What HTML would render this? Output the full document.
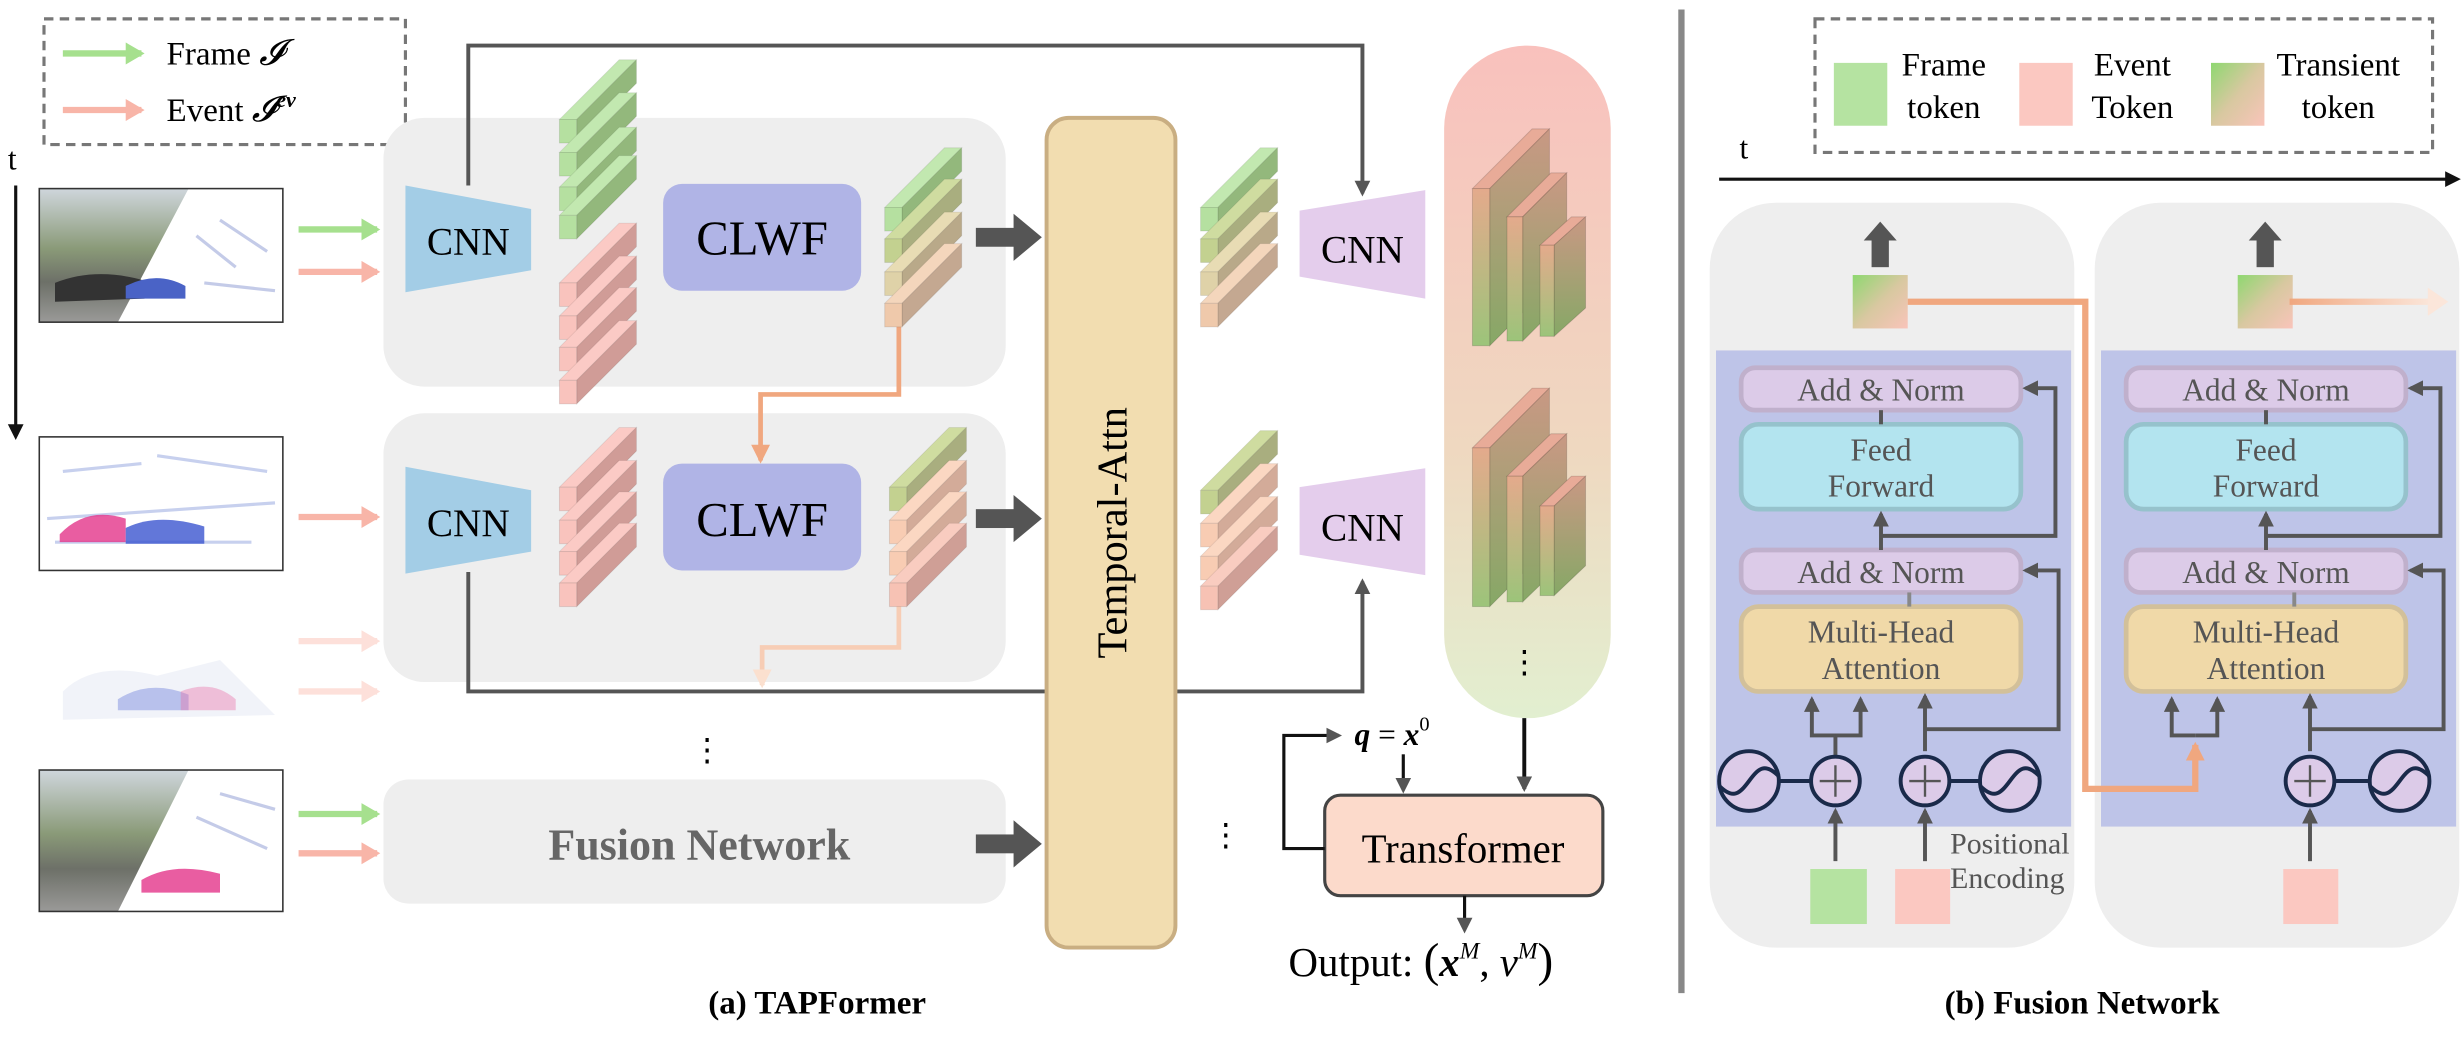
<!DOCTYPE html>
<html><head><meta charset="utf-8"><style>
html,body{margin:0;padding:0;background:#fff;}
svg{display:block;font-family:"Liberation Serif",serif;}
svg text{font-family:"Liberation Serif",serif;}
</style></head><body>
<svg id="s" width="2464" height="1043" viewBox="0 0 1568 663.7" xmlns="http://www.w3.org/2000/svg" font-family="Liberation Serif, serif">
<defs>
<marker id="ah" markerWidth="10" markerHeight="10" refX="8" refY="5" orient="auto" markerUnits="userSpaceOnUse"><path d="M0,0 L10,5 L0,10 Z" fill="#555"/></marker>
<marker id="aho" markerWidth="12" markerHeight="12" refX="10" refY="6" orient="auto" markerUnits="userSpaceOnUse"><path d="M0,0 L12,6 L0,12 Z" fill="#f0a77f"/></marker>
<marker id="ahof" markerWidth="12" markerHeight="12" refX="10" refY="6" orient="auto" markerUnits="userSpaceOnUse"><path d="M0,0 L12,6 L0,12 Z" fill="#fbe0cf"/></marker>
<marker id="ahg" markerWidth="12" markerHeight="14" refX="10" refY="7" orient="auto" markerUnits="userSpaceOnUse"><path d="M0,0 L12,7 L0,14 Z" fill="#a6e08e"/></marker>
<marker id="ahp" markerWidth="12" markerHeight="14" refX="10" refY="7" orient="auto" markerUnits="userSpaceOnUse"><path d="M0,0 L12,7 L0,14 Z" fill="#f8b5a8"/></marker>
<marker id="ahpf" markerWidth="12" markerHeight="14" refX="10" refY="7" orient="auto" markerUnits="userSpaceOnUse"><path d="M0,0 L12,7 L0,14 Z" fill="#fde0da"/></marker>
<linearGradient id="pill" x1="0" y1="0" x2="0" y2="1"><stop offset="0" stop-color="#f9c1bd"/><stop offset="0.6" stop-color="#efd8c0"/><stop offset="1" stop-color="#e2efd0"/></linearGradient>
<linearGradient id="tok" x1="0" y1="0" x2="1" y2="1"><stop offset="0" stop-color="#8ed870"/><stop offset="0.5" stop-color="#d8c8a0"/><stop offset="1" stop-color="#f9c4ba"/></linearGradient>
<linearGradient id="fmf" x1="0" y1="0" x2="0" y2="1"><stop offset="0" stop-color="#e4aa8c"/><stop offset="1" stop-color="#9cc47a"/></linearGradient>
<linearGradient id="fms" x1="0" y1="0" x2="0" y2="1"><stop offset="0" stop-color="#c99884"/><stop offset="1" stop-color="#86a866"/></linearGradient>
<linearGradient id="fadeo" x1="0" y1="0" x2="1" y2="0"><stop offset="0" stop-color="#f0a77f"/><stop offset="1" stop-color="#fbe6da"/></linearGradient>
<linearGradient id="img1" x1="0" y1="0" x2="0" y2="1"><stop offset="0" stop-color="#cfd6dc"/><stop offset="0.45" stop-color="#8a9a78"/><stop offset="0.7" stop-color="#6d7068"/><stop offset="1" stop-color="#9a9a98"/></linearGradient>
</defs>

<rect x="28" y="12" width="230" height="80" fill="none" stroke="#777" stroke-width="2" stroke-dasharray="6,4"/>
<line x1="40" y1="34" x2="90" y2="34" stroke="#a6e08e" stroke-width="4" marker-end="url(#ahg)"/>
<line x1="40" y1="70" x2="90" y2="70" stroke="#f8b5a8" stroke-width="4" marker-end="url(#ahp)"/>
<text x="106" y="41" font-size="21">Frame <tspan font-style="italic" font-size="23">𝓘</tspan></text>
<text x="106" y="77" font-size="21">Event <tspan font-style="italic" font-size="23">𝓘</tspan><tspan font-size="14" dy="-9" font-weight="bold" font-style="italic">ev</tspan></text>

<text x="5" y="108" font-size="20">t</text>
<line x1="10" y1="118" x2="10" y2="272" stroke="#111" stroke-width="2"/>
<path d="M5,270 L10,280 L15,270 Z" fill="#111"/>

<g>
<rect x="25" y="120" width="155" height="85" fill="url(#img1)"/>
<polygon points="120,120 180,120 180,205 75,205" fill="#fff"/>
<rect x="25" y="120" width="155" height="85" fill="none" stroke="#333" stroke-width="1"/>
<path d="M35,180 Q60,170 90,178 L92,190 L35,192 Z" fill="#333"/>
<path d="M80,182 Q100,172 118,182 L118,190 L80,190 Z" fill="#4a63c6"/>
<path d="M125,150 L150,170 M130,180 L175,185 M140,140 L170,160" stroke="#c4cbe8" stroke-width="2"/>

<rect x="25" y="278" width="155" height="85" fill="#fff" stroke="#333" stroke-width="1"/>
<path d="M30,330 L175,320 M40,300 L90,295 M100,290 L170,300 M35,345 L160,345" stroke="#c7d0ee" stroke-width="2"/>
<path d="M38,340 Q55,322 80,330 L80,345 L38,345 Z" fill="#e4358a" opacity="0.8"/>
<path d="M80,336 Q100,326 130,335 L130,346 L80,346 Z" fill="#3b55d0" opacity="0.8"/>

<path d="M40,440 Q60,420 100,430 L140,420 Q160,440 175,455 L40,458 Z" fill="#eef0f8" opacity="0.8"/>
<path d="M75,445 Q95,432 120,442 L120,452 L75,452 Z" fill="#7f8fe0" opacity="0.5"/>
<path d="M115,440 Q135,432 150,445 L150,452 L115,452 Z" fill="#ea6fa8" opacity="0.4"/>

<rect x="25" y="490" width="155" height="90" fill="url(#img1)"/>
<polygon points="120,490 180,490 180,580 75,580" fill="#fff"/>
<rect x="25" y="490" width="155" height="90" fill="none" stroke="#333" stroke-width="1"/>
<path d="M90,560 Q110,548 140,556 L140,568 L90,568 Z" fill="#e4358a" opacity="0.8"/>
<path d="M125,520 L170,540 M140,505 L175,515" stroke="#c4cbe8" stroke-width="2"/>
</g>

<line x1="190" y1="146" x2="240" y2="146" stroke="#a6e08e" stroke-width="4" marker-end="url(#ahg)"/>
<line x1="190" y1="173" x2="240" y2="173" stroke="#f8b5a8" stroke-width="4" marker-end="url(#ahp)"/>
<line x1="190" y1="329" x2="240" y2="329" stroke="#f8b5a8" stroke-width="4" marker-end="url(#ahp)"/>
<line x1="190" y1="408" x2="240" y2="408" stroke="#fde0da" stroke-width="4" marker-end="url(#ahpf)"/>
<line x1="190" y1="440" x2="240" y2="440" stroke="#fde0da" stroke-width="4" marker-end="url(#ahpf)"/>
<line x1="190" y1="518" x2="240" y2="518" stroke="#a6e08e" stroke-width="4" marker-end="url(#ahg)"/>
<line x1="190" y1="543" x2="240" y2="543" stroke="#f8b5a8" stroke-width="4" marker-end="url(#ahp)"/>

<rect x="244" y="75" width="396" height="171" rx="26" fill="#eeeeee"/>
<rect x="244" y="263" width="396" height="171" rx="26" fill="#eeeeee"/>
<rect x="244" y="496" width="396" height="79" rx="16" fill="#eeeeee"/>
<text x="445" y="547" font-size="28" font-weight="bold" fill="#666" text-anchor="middle">Fusion Network</text>

<polyline points="298,118 298,29 867,29 867,123" fill="none" stroke="#555" stroke-width="2.5" marker-end="url(#ah)"/>
<polyline points="298,364 298,440 867,440 867,370" fill="none" stroke="#555" stroke-width="2.5" marker-end="url(#ah)"/>

<polygon points="258,118 338,133 338,172 258,186" fill="#a3cde6"/>
<text x="298" y="162" font-size="25" text-anchor="middle">CNN</text>
<polygon points="258,297 338,312 338,351 258,365" fill="#a3cde6"/>
<text x="298" y="341" font-size="25" text-anchor="middle">CNN</text>

<rect x="422" y="117" width="126" height="68" rx="12" fill="#b0b4e6"/>
<text x="485" y="162" font-size="31" text-anchor="middle">CLWF</text>
<rect x="422" y="295" width="126" height="68" rx="12" fill="#b0b4e6"/>
<text x="485" y="341" font-size="31" text-anchor="middle">CLWF</text>

<polyline points="572,205 572,251 484,251 484,293" fill="none" stroke="#f0a77f" stroke-width="3" marker-end="url(#aho)"/>
<polyline points="572,385 572,412 485,412 485,436" fill="none" stroke="#f7cdb5" stroke-width="3" marker-end="url(#ahof)"/>

<g fill="#555">
<rect x="621" y="145" width="25" height="12"/><polygon points="645,136 663,151 645,166"/>
<rect x="621" y="324" width="25" height="12"/><polygon points="645,315 663,330 645,345"/>
<rect x="621" y="531" width="25" height="12"/><polygon points="645,522 663,537 645,552"/>
</g>

<rect x="666" y="75" width="82" height="528" rx="14" fill="#f2ddb0" stroke="#c9ae82" stroke-width="2.5"/>
<text x="0" y="0" font-size="27" text-anchor="middle" transform="translate(717,339) rotate(-90)">Temporal-Attn</text>

<polygon points="827,134 907,121 907,190 827,176" fill="#e4cdec"/>
<text x="867" y="167" font-size="25" text-anchor="middle">CNN</text>
<polygon points="827,310 907,298 907,366 827,353" fill="#e4cdec"/>
<text x="867" y="344" font-size="25" text-anchor="middle">CNN</text>

<rect x="919" y="29" width="106" height="428" rx="53" fill="url(#pill)"/>
<g id="slabs"></g>
<text x="970" y="428" font-size="20" text-anchor="middle">⋮</text>
<text x="450" y="484" font-size="20" text-anchor="middle">⋮</text>
<text x="780" y="538" font-size="20" text-anchor="middle">⋮</text>

<line x1="970" y1="457" x2="970" y2="502" stroke="#111" stroke-width="2.5" marker-end="url(#ah)"/>
<rect x="843" y="506" width="177" height="64" rx="10" fill="#fcdacb" stroke="#444" stroke-width="2"/>
<text x="931" y="549" font-size="26" text-anchor="middle">Transformer</text>
<text x="862" y="474" font-size="20" font-weight="bold" font-style="italic">q<tspan font-style="normal" font-weight="normal"> = </tspan>x<tspan font-size="13" dy="-9" font-style="normal" font-weight="normal">0</tspan></text>
<line x1="893" y1="480" x2="893" y2="503" stroke="#111" stroke-width="2" marker-end="url(#ah)"/>
<polyline points="843,540 817,540 817,468 852,468" fill="none" stroke="#111" stroke-width="2" marker-end="url(#ah)"/>
<line x1="932" y1="570" x2="932" y2="592" stroke="#111" stroke-width="2" marker-end="url(#ah)"/>
<text x="820" y="621" font-size="26">Output: <tspan font-size="30">(</tspan><tspan font-weight="bold" font-style="italic">x</tspan><tspan font-size="15" dy="-11" font-style="italic">M</tspan><tspan dy="11">, </tspan><tspan font-style="italic">v</tspan><tspan font-size="15" dy="-11" font-style="italic">M</tspan><tspan dy="11" font-size="30">)</tspan></text>
<text x="520" y="645" font-size="21" font-weight="bold" text-anchor="middle">(a) TAPFormer</text>

<line x1="1070" y1="6" x2="1070" y2="632" stroke="#888" stroke-width="4"/>

<rect x="1155" y="12" width="393" height="85" fill="none" stroke="#777" stroke-width="2" stroke-dasharray="6,4"/>
<rect x="1167" y="40" width="34" height="40" fill="#b5e3a1"/>
<text x="1237" y="48" font-size="21" text-anchor="middle">Frame</text>
<text x="1237" y="75" font-size="21" text-anchor="middle">token</text>
<rect x="1285" y="40" width="34" height="40" fill="#fbc8c1"/>
<text x="1357" y="48" font-size="21" text-anchor="middle">Event</text>
<text x="1357" y="75" font-size="21" text-anchor="middle">Token</text>
<rect x="1407" y="40" width="34" height="40" fill="url(#tok)"/>
<text x="1488" y="48" font-size="21" text-anchor="middle">Transient</text>
<text x="1488" y="75" font-size="21" text-anchor="middle">token</text>

<text x="1107" y="101" font-size="20">t</text>
<line x1="1094" y1="114" x2="1558" y2="114" stroke="#111" stroke-width="2"/>
<path d="M1556,109 L1566,114 L1556,119 Z" fill="#111"/>

<g id="fusion"></g>
<g font-size="20" fill="#555" text-anchor="middle">
<text x="1197" y="255">Add &amp; Norm</text>
<text x="1197" y="293">Feed</text>
<text x="1197" y="316">Forward</text>
<text x="1197" y="371">Add &amp; Norm</text>
<text x="1197" y="409">Multi-Head</text>
<text x="1197" y="432">Attention</text>
<text x="1442" y="255">Add &amp; Norm</text>
<text x="1442" y="293">Feed</text>
<text x="1442" y="316">Forward</text>
<text x="1442" y="371">Add &amp; Norm</text>
<text x="1442" y="409">Multi-Head</text>
<text x="1442" y="432">Attention</text>
<text x="1241" y="543" font-size="19" text-anchor="start">Positional</text>
<text x="1241" y="565" font-size="19" text-anchor="start">Encoding</text>
</g>
<text x="1325" y="645" font-size="21" font-weight="bold" text-anchor="middle">(b) Fusion Network</text>
</svg>
<script>
var NS="http://www.w3.org/2000/svg";
function el(p,t,a){var e=document.createElementNS(NS,t);for(var k in a)e.setAttribute(k,a[k]);p.appendChild(e);return e;}
var S=document.getElementById('slabs');
var C={g:["#b5e0a0","#c2e8b0","#93b87c"],p:["#f9c3bd","#fbcac5","#d09c97"],o:["#c3d190","#cfdca0","#a9ae7f"],t:["#dfd2a8","#e8dcb4","#b9a989"],e:["#efc9ab","#f4d6bc","#c4a891"],k:["#f7c2b4","#f9ccc0","#cf9f96"],f:["#f8ccb3","#fbd7c2","#d3ab99"]};
function slab(x,y,c,w,h,d){w=w||11;h=h||15;d=d||38;var col=C[c];
 el(S,'polygon',{points:[x,y,x+d,y-d,x+d+w,y-d,x+w,y].join(' '),fill:col[1],stroke:"rgba(0,0,0,0.08)","stroke-width":0.6});
 el(S,'polygon',{points:[x+w,y,x+w+d,y-d,x+w+d,y-d+h,x+w,y+h].join(' '),fill:col[2],stroke:"rgba(0,0,0,0.08)","stroke-width":0.6});
 el(S,'rect',{x:x,y:y,width:w,height:h,fill:col[0],stroke:"rgba(0,0,0,0.1)","stroke-width":0.6});}
function stack(x,ys,cs){for(var i=0;i<ys.length;i++)slab(x,ys[i],cs[i]);}
stack(356,[76,97,119,137],['g','g','g','g']);
stack(356,[180,201,221,242],['p','p','p','p']);
stack(563,[132,152,173,193],['g','o','t','e']);
stack(764,[132,152,173,193],['g','o','t','e']);
stack(356,[310,331,351,371],['p','p','p','p']);
stack(566,[310,331,351,371],['o','f','f','k']);
stack(764,[312,333,354,373],['o','f','f','k']);
function fm(x,top,fy,bot,w,d){
 el(S,'polygon',{points:[x,fy,x+d,top,x+d+w,top,x+w,fy].join(' '),fill:"#e8ab98",stroke:"rgba(0,0,0,0.15)","stroke-width":0.6});
 el(S,'polygon',{points:[x+w,fy,x+w+d,top,x+w+d,bot-(fy-top),x+w,bot].join(' '),fill:"url(#fms)",stroke:"rgba(0,0,0,0.15)","stroke-width":0.6});
 el(S,'rect',{x:x,y:fy,width:w,height:bot-fy,fill:"url(#fmf)",stroke:"rgba(0,0,0,0.15)","stroke-width":0.6});}
fm(937,82,120,220,11,38);fm(959,110,138,217,10,28);fm(980,138,156,214,9,20);
fm(937,247,285,386,11,38);fm(959,276,303,383,10,28);fm(980,303,322,379,9,20);

var F=document.getElementById('fusion');
function sine(cx,cy){el(F,'circle',{cx:cx,cy:cy,r:19,fill:"#dccbe8",stroke:"#1a2a4a","stroke-width":2.5});
 el(F,'path',{d:"M"+(cx-19)+","+(cy+3)+" C"+(cx-10)+","+(cy+12)+" "+(cx-6)+","+(cy+8)+" "+cx+","+cy+" C"+(cx+6)+","+(cy-8)+" "+(cx+10)+","+(cy-12)+" "+(cx+19)+","+(cy-3),fill:"none",stroke:"#1a2a4a","stroke-width":2.5});}
function plus(cx,cy){el(F,'circle',{cx:cx,cy:cy,r:15.5,fill:"#dccbe8",stroke:"#1a2a4a","stroke-width":2.5});
 el(F,'path',{d:"M"+(cx-10)+","+cy+" H"+(cx+10)+" M"+cx+","+(cy-10)+" V"+(cy+10),stroke:"#555","stroke-width":1.5});}
function line(pts,mk,col,w){var a={points:pts,fill:"none",stroke:col||"#555","stroke-width":w||2.5};if(mk)a['marker-end']="url(#"+mk+")";el(F,'polyline',a);}
function panel(o){
 el(F,'rect',{x:1088+o,y:129,width:232,height:474,rx:42,fill:"#eeeeee"});
 el(F,'rect',{x:1092+o,y:223,width:226,height:303,fill:"#bec4e8"});
 el(F,'rect',{x:1108+o,y:234,width:178,height:27,rx:9,fill:"#dccbe8",stroke:"#c0b0cc","stroke-width":3});
 el(F,'rect',{x:1108+o,y:270,width:178,height:54,rx:11,fill:"#b3e4ef",stroke:"#96c2cc","stroke-width":3});
 el(F,'rect',{x:1108+o,y:350,width:178,height:27,rx:9,fill:"#dccbe8",stroke:"#c0b0cc","stroke-width":3});
 el(F,'rect',{x:1108+o,y:386,width:178,height:54,rx:11,fill:"#f0d9a8",stroke:"#d2c09a","stroke-width":3});
 line([1197+o,261,1197+o,270].join(' '));
 line([1215+o,377,1215+o,386].join(' '),null,"#888");
 line([1197+o,350,1197+o,327].join(' '),'ah');
 line([1197+o,341,1308+o,341,1308+o,247,1289+o,247].join(' '),'ah');
 line([1225+o,464,1310+o,464,1310+o,363,1289+o,363].join(' '),'ah');
 line([1225+o,478,1225+o,443].join(' '),'ah');
 el(F,'rect',{x:1179+o,y:175,width:35,height:34,fill:"url(#tok)"});
 el(F,'rect',{x:1191+o,y:152,width:11,height:18,fill:"#555"});
 el(F,'path',{d:"M"+(1186+o)+",153 L"+(1196.5+o)+",141 L"+(1207+o)+",153 Z",fill:"#555"});
}
panel(0);panel(245);
line("1168,481 1168,468 1153,468 1153,445",'ah');line("1168,468 1184,468 1184,445",'ah');
sine(1113,497);plus(1168,497);plus(1225,497);sine(1279,497);
line("1132,497 1152,497",null,"#1a2a4a");line("1241,497 1260,497",null,"#1a2a4a");
el(F,'rect',{x:1152,y:553,width:36,height:35,fill:"#b5e3a1"});
el(F,'rect',{x:1206,y:553,width:35,height:35,fill:"#fbc8c1"});
line("1168,548 1168,516",'ah');line("1225,548 1225,516",'ah');
line("1397,468 1382,468 1382,445",'ah');line("1397,468 1411,468 1411,445",'ah');
line("1214,192 1327,192 1327,502 1397,502 1397,474",'aho',"#f0a77f",4);
plus(1470,497);sine(1527,497);line("1486,497 1508,497",null,"#1a2a4a");
el(F,'rect',{x:1453,y:553,width:35,height:35,fill:"#fbc8c1"});
line("1470,548 1470,516",'ah');
el(F,'rect',{x:1457,y:190,width:90,height:4,fill:"url(#fadeo)"});
el(F,'path',{d:"M1545,183 L1558,192 L1545,201 Z",fill:"#fbe6da"});
</script>
</body></html>
